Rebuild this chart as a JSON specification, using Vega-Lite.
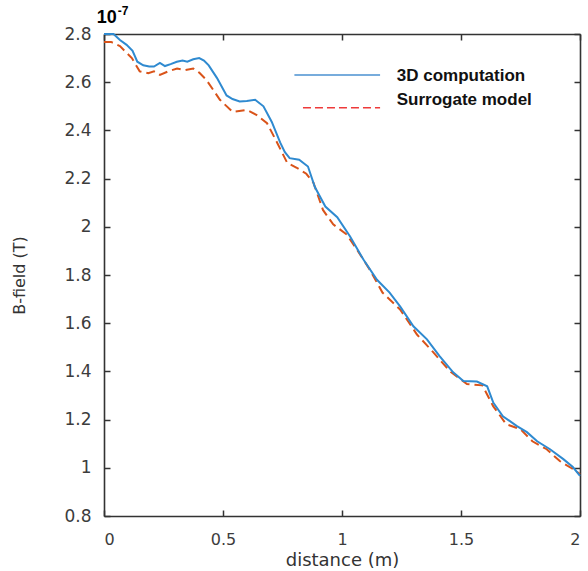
{
  "$schema": "https://vega.github.io/schema/vega-lite/v6.json",
  "width": 476,
  "height": 482,
  "autosize": "none",
  "padding": {"left": 104, "top": 34, "right": 8, "bottom": 55},
  "background": "white",
  "config": {
    "view": {"stroke": null},
    "axis": {
      "grid": false,
      "domainColor": "#333333",
      "domainWidth": 1.6,
      "tickColor": "#333333",
      "tickWidth": 1.5,
      "tickSize": -6,
      "labelColor": "#3c3c3c",
      "labelFont": "DejaVu Sans",
      "labelFontSize": 16,
      "titleFont": "DejaVu Sans",
      "titleFontWeight": "normal",
      "titleColor": "#333333"
    }
  },
  "datasets": {
    "curves": [
      {"series": "3D computation", "d": 0, "B": 2.8},
      {"series": "3D computation", "d": 0.04, "B": 2.8},
      {"series": "3D computation", "d": 0.067, "B": 2.775},
      {"series": "3D computation", "d": 0.095, "B": 2.755},
      {"series": "3D computation", "d": 0.12, "B": 2.73},
      {"series": "3D computation", "d": 0.14, "B": 2.685},
      {"series": "3D computation", "d": 0.165, "B": 2.67},
      {"series": "3D computation", "d": 0.19, "B": 2.665},
      {"series": "3D computation", "d": 0.21, "B": 2.665},
      {"series": "3D computation", "d": 0.235, "B": 2.68},
      {"series": "3D computation", "d": 0.256, "B": 2.667},
      {"series": "3D computation", "d": 0.28, "B": 2.675},
      {"series": "3D computation", "d": 0.306, "B": 2.685},
      {"series": "3D computation", "d": 0.33, "B": 2.69},
      {"series": "3D computation", "d": 0.35, "B": 2.685},
      {"series": "3D computation", "d": 0.375, "B": 2.695},
      {"series": "3D computation", "d": 0.4, "B": 2.7},
      {"series": "3D computation", "d": 0.42, "B": 2.69},
      {"series": "3D computation", "d": 0.44, "B": 2.67},
      {"series": "3D computation", "d": 0.475, "B": 2.617},
      {"series": "3D computation", "d": 0.515, "B": 2.545},
      {"series": "3D computation", "d": 0.54, "B": 2.53},
      {"series": "3D computation", "d": 0.57, "B": 2.52},
      {"series": "3D computation", "d": 0.6, "B": 2.522},
      {"series": "3D computation", "d": 0.635, "B": 2.527},
      {"series": "3D computation", "d": 0.67, "B": 2.5},
      {"series": "3D computation", "d": 0.705, "B": 2.435},
      {"series": "3D computation", "d": 0.74, "B": 2.35},
      {"series": "3D computation", "d": 0.76, "B": 2.31},
      {"series": "3D computation", "d": 0.78, "B": 2.285},
      {"series": "3D computation", "d": 0.82, "B": 2.278},
      {"series": "3D computation", "d": 0.857, "B": 2.25},
      {"series": "3D computation", "d": 0.886, "B": 2.165},
      {"series": "3D computation", "d": 0.93, "B": 2.084},
      {"series": "3D computation", "d": 0.98, "B": 2.04},
      {"series": "3D computation", "d": 1.034, "B": 1.96},
      {"series": "3D computation", "d": 1.09, "B": 1.864},
      {"series": "3D computation", "d": 1.147, "B": 1.78},
      {"series": "3D computation", "d": 1.2, "B": 1.727},
      {"series": "3D computation", "d": 1.244, "B": 1.67},
      {"series": "3D computation", "d": 1.3, "B": 1.587},
      {"series": "3D computation", "d": 1.357, "B": 1.533},
      {"series": "3D computation", "d": 1.41, "B": 1.463},
      {"series": "3D computation", "d": 1.467, "B": 1.396},
      {"series": "3D computation", "d": 1.51, "B": 1.36},
      {"series": "3D computation", "d": 1.567, "B": 1.358},
      {"series": "3D computation", "d": 1.61, "B": 1.338},
      {"series": "3D computation", "d": 1.636, "B": 1.27},
      {"series": "3D computation", "d": 1.676, "B": 1.214},
      {"series": "3D computation", "d": 1.735, "B": 1.173},
      {"series": "3D computation", "d": 1.777, "B": 1.148},
      {"series": "3D computation", "d": 1.82, "B": 1.11},
      {"series": "3D computation", "d": 1.874, "B": 1.077},
      {"series": "3D computation", "d": 1.93, "B": 1.036},
      {"series": "3D computation", "d": 1.97, "B": 1.003},
      {"series": "3D computation", "d": 2.0, "B": 0.966},
      {"series": "Surrogate model", "d": 0, "B": 2.767},
      {"series": "Surrogate model", "d": 0.03, "B": 2.767},
      {"series": "Surrogate model", "d": 0.067, "B": 2.75},
      {"series": "Surrogate model", "d": 0.117, "B": 2.7},
      {"series": "Surrogate model", "d": 0.15, "B": 2.645},
      {"series": "Surrogate model", "d": 0.186, "B": 2.637},
      {"series": "Surrogate model", "d": 0.21, "B": 2.645},
      {"series": "Surrogate model", "d": 0.235, "B": 2.63},
      {"series": "Surrogate model", "d": 0.27, "B": 2.645},
      {"series": "Surrogate model", "d": 0.307, "B": 2.657},
      {"series": "Surrogate model", "d": 0.34, "B": 2.65},
      {"series": "Surrogate model", "d": 0.375, "B": 2.657},
      {"series": "Surrogate model", "d": 0.4, "B": 2.64},
      {"series": "Surrogate model", "d": 0.43, "B": 2.61},
      {"series": "Surrogate model", "d": 0.487, "B": 2.527},
      {"series": "Surrogate model", "d": 0.54, "B": 2.477},
      {"series": "Surrogate model", "d": 0.6, "B": 2.485},
      {"series": "Surrogate model", "d": 0.64, "B": 2.465},
      {"series": "Surrogate model", "d": 0.685, "B": 2.43},
      {"series": "Surrogate model", "d": 0.727, "B": 2.35},
      {"series": "Surrogate model", "d": 0.77, "B": 2.265},
      {"series": "Surrogate model", "d": 0.81, "B": 2.245},
      {"series": "Surrogate model", "d": 0.85, "B": 2.22},
      {"series": "Surrogate model", "d": 0.88, "B": 2.183},
      {"series": "Surrogate model", "d": 0.92, "B": 2.07},
      {"series": "Surrogate model", "d": 0.963, "B": 2.01},
      {"series": "Surrogate model", "d": 1.02, "B": 1.968},
      {"series": "Surrogate model", "d": 1.063, "B": 1.905},
      {"series": "Surrogate model", "d": 1.118, "B": 1.82},
      {"series": "Surrogate model", "d": 1.17, "B": 1.727},
      {"series": "Surrogate model", "d": 1.244, "B": 1.657},
      {"series": "Surrogate model", "d": 1.315, "B": 1.553},
      {"series": "Surrogate model", "d": 1.383, "B": 1.48},
      {"series": "Surrogate model", "d": 1.454, "B": 1.4},
      {"series": "Surrogate model", "d": 1.525, "B": 1.348},
      {"series": "Surrogate model", "d": 1.59, "B": 1.342},
      {"series": "Surrogate model", "d": 1.635, "B": 1.256},
      {"series": "Surrogate model", "d": 1.69, "B": 1.181},
      {"series": "Surrogate model", "d": 1.75, "B": 1.16},
      {"series": "Surrogate model", "d": 1.8, "B": 1.11},
      {"series": "Surrogate model", "d": 1.86, "B": 1.077},
      {"series": "Surrogate model", "d": 1.915, "B": 1.028},
      {"series": "Surrogate model", "d": 1.97, "B": 0.995},
      {"series": "Surrogate model", "d": 2.0, "B": 0.974}
    ]
  },
  "resolve": {"axis": {"x": "independent", "y": "independent"}},
  "layer": [
    {
      "data": {"name": "curves"},
      "transform": [{"filter": "datum.series === 'Surrogate model'"}],
      "mark": {"type": "line", "color": "#D95319", "strokeWidth": 2, "strokeDash": [9, 5]},
      "encoding": {
        "x": {"field": "d", "type": "quantitative",
              "scale": {"domain": [0, 2], "nice": false, "zero": false},
              "axis": {"orient": "top", "values": [0, 0.5, 1, 1.5, 2], "labels": false, "title": null}},
        "y": {"field": "B", "type": "quantitative",
              "scale": {"domain": [0.8, 2.8], "nice": false, "zero": false},
              "axis": {"orient": "right", "values": [0.8, 1, 1.2, 1.4, 1.6, 1.8, 2, 2.2, 2.4, 2.6, 2.8], "labels": false, "title": null}}
      }
    },
    {
      "data": {"name": "curves"},
      "transform": [{"filter": "datum.series === '3D computation'"}],
      "mark": {"type": "line", "color": "#2f8ad0", "strokeWidth": 2},
      "encoding": {
        "x": {"field": "d", "type": "quantitative",
              "axis": {"orient": "bottom", "values": [0, 0.5, 1, 1.5, 2], "format": ".1~f",
                       "labelPadding": 21, "labelFontSize": 16,
                       "title": "distance (m)", "titleFontSize": 18, "titlePadding": 4}},
        "y": {"field": "B", "type": "quantitative",
              "axis": {"orient": "left", "values": [0.8, 1, 1.2, 1.4, 1.6, 1.8, 2, 2.2, 2.4, 2.6, 2.8], "format": ".2~f",
                       "labelPadding": 19, "labelFontSize": 17,
                       "title": "B-field (T)", "titleFontSize": 16, "titlePadding": 36}}
      }
    },
    {
      "data": {"values": [{}]},
      "mark": {"type": "rule", "color": "#4a90d0", "strokeWidth": 1.5},
      "encoding": {
        "x": {"datum": 0.80, "type": "quantitative", "axis": null},
        "x2": {"datum": 1.16},
        "y": {"datum": 2.63, "type": "quantitative", "axis": null}
      }
    },
    {
      "data": {"values": [{}]},
      "mark": {"type": "rule", "color": "#ee3a3a", "strokeWidth": 1.5, "strokeDash": [8, 4]},
      "encoding": {
        "x": {"datum": 0.836, "type": "quantitative", "axis": null},
        "x2": {"datum": 1.16},
        "y": {"datum": 2.494, "type": "quantitative", "axis": null}
      }
    },
    {
      "data": {"values": [{}]},
      "mark": {"type": "text", "text": "3D computation", "align": "left", "baseline": "middle",
               "font": "Liberation Sans", "fontWeight": "bold", "fontSize": 17, "color": "#111111"},
      "encoding": {
        "x": {"datum": 1.23, "type": "quantitative", "axis": null},
        "y": {"datum": 2.626, "type": "quantitative", "axis": null}
      }
    },
    {
      "data": {"values": [{}]},
      "mark": {"type": "text", "text": "Surrogate model", "align": "left", "baseline": "middle",
               "font": "Liberation Sans", "fontWeight": "bold", "fontSize": 17, "color": "#111111"},
      "encoding": {
        "x": {"datum": 1.23, "type": "quantitative", "axis": null},
        "y": {"datum": 2.527, "type": "quantitative", "axis": null}
      }
    },
    {
      "data": {"values": [{}]},
      "mark": {"type": "text", "text": "10", "align": "left", "baseline": "alphabetic",
               "font": "Liberation Sans", "fontWeight": "bold", "fontSize": 18, "color": "#000000"},
      "encoding": {
        "x": {"datum": -0.03, "type": "quantitative", "axis": null},
        "y": {"datum": 2.846, "type": "quantitative", "axis": null}
      }
    },
    {
      "data": {"values": [{}]},
      "mark": {"type": "text", "text": "-7", "align": "left", "baseline": "alphabetic",
               "font": "Liberation Sans", "fontWeight": "bold", "fontSize": 12, "color": "#000000"},
      "encoding": {
        "x": {"datum": 0.058, "type": "quantitative", "axis": null},
        "y": {"datum": 2.88, "type": "quantitative", "axis": null}
      }
    }
  ]
}
